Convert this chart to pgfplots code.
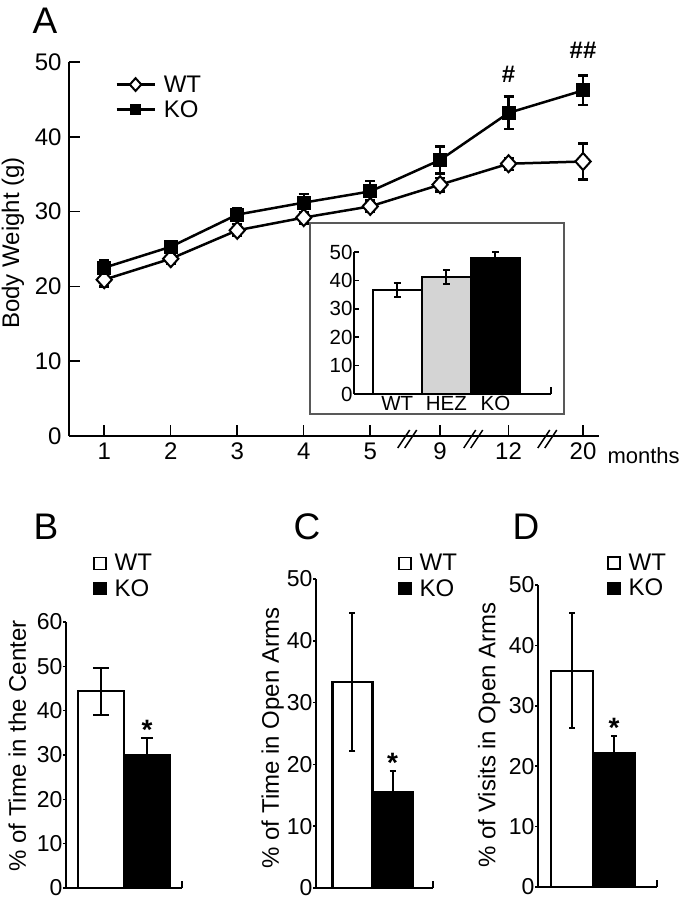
\documentclass[border=0pt]{standalone}
\usepackage{fontspec}
\setmainfont{Liberation Sans}
\usepackage{pgfplots}
\pgfplotsset{compat=1.18}
\usepackage{pgfplotstable}

\newcommand{\fA}{\fontsize{24}{28}\selectfont}
\newcommand{\fB}{\fontsize{20.5}{23}\selectfont}
\newcommand{\fC}{\fontsize{23}{27}\selectfont}
\newcommand{\fL}{\fontsize{37}{40}\selectfont}

\pgfplotstableread{
x y e
1 20.9 0.9
2 23.7 0.7
3 27.5 0.8
4 29.2 0.8
5 30.7 0.8
6.05 33.6 0.9
7.08 36.4 0.8
8.2 36.7 2.4
}\wtdata
\pgfplotstableread{
x y e
1 22.5 1.0
2 25.3 0.8
3 29.6 0.9
4 31.2 1.2
5 32.7 1.4
6.05 36.9 1.8
7.08 43.2 2.2
8.2 46.2 2.0
}\kodata

\pgfplotsset{
  every axis/.append style={
    scale only axis, anchor=south west, clip=false,
    axis x line=bottom, axis y line=left,
    axis line style={-, line width=1.8pt},
    tick style={black, line width=1.5pt},
    /pgf/number format/assume math mode=true,
  },
  bcd/.style={
    xtick=\empty, tick align=outside, major tick length=3pt,
    tick label style={font=\fC},
    yticklabel style={xshift=3pt},
    ylabel style={font=\fA, anchor=center},
    legend style={anchor=north west, draw=none, fill=none, font=\fA,
      inner sep=0pt, row sep=5pt, nodes={inner sep=1pt},
      /tikz/every odd column/.append style={column sep=7pt}},
    legend cell align=left,
  },
  wtleg/.style={legend image code/.code={\draw[line width=1.5pt, fill=white] (0pt,-6pt) rectangle (12pt,6pt);}},
  koleg/.style={legend image code/.code={\draw[line width=1.5pt, fill=black] (0pt,-6pt) rectangle (12pt,6pt);}},
}

\begin{document}
\begin{tikzpicture}[x=1pt,y=1pt]
\useasboundingbox (0,0) rectangle (684,-899);

% Panel letters
\node[font=\fL] at (45,-21) {A};
\node[font=\fL] at (46,-527) {B};
\node[font=\fL] at (307,-527) {C};
\node[font=\fL] at (526,-527) {D};

% ---------- Panel A ----------
\begin{axis}[
  at={(69pt,-436pt)},
  width=530pt, height=374pt,
  xmin=0.47, xmax=8.44, ymin=0, ymax=50,
  xtick={1,2,3,4,5,6.05,7.08,8.2}, xticklabels={1,2,3,4,5,9,12,20},
  ytick={0,10,20,30,40,50},
  tick align=inside, major tick length=11pt,
  tick label style={font=\fA},
  yticklabel style={xshift=-4pt},
  xticklabel style={yshift=-3pt},
  ylabel={Body Weight (g)},
  ylabel style={font=\fA, at={(axis description cs:-0.106,0.516)}, anchor=center},
  legend style={at={(0.087,0.967)}, anchor=north west, draw=none, fill=none, font=\fA,
    inner sep=0pt, row sep=5pt, nodes={inner sep=1pt},
    /tikz/every odd column/.append style={column sep=7pt}},
  legend cell align=left,
  legend image code/.code={\draw[mark repeat=2,mark phase=2,every mark/.append style={scale=0.75},#1] plot coordinates {(0pt,0pt) (19pt,0pt) (38pt,0pt)};},
]
\addplot[black, line width=2.5pt, mark=diamond*, mark size=8.5pt,
  mark options={fill=white, line width=2pt, xscale=1.2},
  error bars/.cd, y dir=both, y explicit,
  error bar style={line width=2.2pt},
  error mark options={rotate=90, line width=2.2pt, mark size=5pt}]
  table[x=x,y=y,y error=e]{\wtdata};
\addlegendentry{WT}
\addplot[black, line width=2.5pt, mark=square*, mark size=6.5pt,
  mark options={fill=black, line width=1pt},
  error bars/.cd, y dir=both, y explicit,
  error bar style={line width=2.2pt},
  error mark options={rotate=90, line width=2.2pt, mark size=5pt}]
  table[x=x,y=y,y error=e]{\kodata};
\addlegendentry{KO}
\node[font=\fA\bfseries] at (axis cs:7.08,48.3) {\#};
\node[font=\fA\bfseries] at (axis cs:8.2,51.6) {\#\#};
% axis breaks
\draw[line width=1.5pt] ([xshift=-9.5pt,yshift=-12pt]axis cs:5.556,0) -- ([xshift=2.5pt,yshift=6pt]axis cs:5.556,0);
\draw[line width=1.5pt] ([xshift=-2.5pt,yshift=-12pt]axis cs:5.556,0) -- ([xshift=9.5pt,yshift=6pt]axis cs:5.556,0);
\draw[line width=1.5pt] ([xshift=-9.5pt,yshift=-12pt]axis cs:6.549,0) -- ([xshift=2.5pt,yshift=6pt]axis cs:6.549,0);
\draw[line width=1.5pt] ([xshift=-2.5pt,yshift=-12pt]axis cs:6.549,0) -- ([xshift=9.5pt,yshift=6pt]axis cs:6.549,0);
\draw[line width=1.5pt] ([xshift=-9.5pt,yshift=-12pt]axis cs:7.662,0) -- ([xshift=2.5pt,yshift=6pt]axis cs:7.662,0);
\draw[line width=1.5pt] ([xshift=-2.5pt,yshift=-12pt]axis cs:7.662,0) -- ([xshift=9.5pt,yshift=6pt]axis cs:7.662,0);
\end{axis}
\node[font=\fontsize{22}{26}\selectfont, anchor=west] at (604,-456) {months};

% ---------- Inset ----------
\draw[black!65, line width=1.5pt, fill=white] (310,-223) rectangle (564,-414);
\begin{axis}[
  at={(354pt,-394pt)},
  width=197pt, height=142pt,
  xmin=0.12, xmax=4.13, ymin=0, ymax=50,
  ytick={0,10,20,30,40,50},
  xtick={1,2,3}, xticklabels={WT,HEZ,KO},
  major x tick style={draw=none},
  tick align=inside, major tick length=5pt,
  tick label style={font=\fB},
  yticklabel style={xshift=2pt},
  xticklabel style={yshift=1pt},
]
\addplot[ybar, bar width=1, bar shift=0pt, draw=black, line width=2.2pt, fill=white,
  error bars/.cd, y dir=both, y explicit, error bar style={line width=2pt},
  error mark options={rotate=90, line width=2pt, mark size=3.5pt}]
  coordinates {(1,36.6) +- (0,2.4)};
\addplot[ybar, bar width=1, bar shift=0pt, draw=black, line width=2.2pt, fill=black!17,
  error bars/.cd, y dir=both, y explicit, error bar style={line width=2pt},
  error mark options={rotate=90, line width=2pt, mark size=3.5pt}]
  coordinates {(2,41.2) +- (0,2.5)};
\addplot[ybar, bar width=1, bar shift=0pt, draw=black, line width=2.2pt, fill=black,
  error bars/.cd, y dir=both, y explicit, error bar style={line width=2pt},
  error mark options={rotate=90, line width=2pt, mark size=3.5pt}]
  coordinates {(3,47.9) +- (0,2.1)};
\draw[line width=1.5pt] (axis cs:4.13,0) -- ++(0pt,7pt);
\end{axis}

% ---------- Panel B ----------
\begin{axis}[bcd,
  at={(66pt,-888pt)}, width=116pt, height=266pt,
  xmin=0.24, xmax=2.76, ymin=0, ymax=60, ytick={0,10,20,30,40,50,60},
  ylabel={\% of Time in the Center},
  ylabel style={at={(axis description cs:-0.42,0.534)}},
  legend style={at={(0.233,1.259)}},
]
\addplot[ybar, bar width=1, bar shift=0pt, draw=black, line width=2.2pt, fill=white, wtleg,
  error bars/.cd, y dir=both, y explicit, error bar style={line width=2pt},
  error mark options={rotate=90, line width=2pt, mark size=8pt}]
  coordinates {(1,44.4) +- (0,5.3)};
\addlegendentry{WT}
\addplot[ybar, bar width=1, bar shift=0pt, draw=black, line width=2.2pt, fill=black, koleg,
  error bars/.cd, y dir=both, y explicit, error bar style={line width=2pt},
  error mark options={rotate=90, line width=2pt, mark size=6pt}]
  coordinates {(2,30.0) +- (0,3.8)};
\addlegendentry{KO}
\node[font=\fontsize{28}{30}\selectfont\bfseries, anchor=base] at (axis cs:2,33.4) {*};
\draw[line width=1.5pt] (axis cs:2.76,0) -- ++(0pt,7pt);
\end{axis}

% ---------- Panel C ----------
\begin{axis}[bcd,
  at={(316pt,-888pt)}, width=117pt, height=309pt,
  xmin=0.09, xmax=3.01, ymin=0, ymax=50, ytick={0,10,20,30,40,50},
  ylabel={\% of Time in Open Arms},
  ylabel style={at={(axis description cs:-0.37,0.485)}},
  legend style={at={(0.70,1.084)}},
]
\addplot[ybar, bar width=1, bar shift=0pt, draw=black, line width=2.2pt, fill=white, wtleg,
  error bars/.cd, y dir=both, y explicit, error bar style={line width=2pt},
  error mark options={rotate=90, line width=2pt, mark size=3pt}]
  coordinates {(1,33.3) +- (0,11.2)};
\addlegendentry{WT}
\addplot[ybar, bar width=1, bar shift=0pt, draw=black, line width=2.2pt, fill=black, koleg,
  error bars/.cd, y dir=both, y explicit, error bar style={line width=2pt},
  error mark options={rotate=90, line width=2pt, mark size=3pt}]
  coordinates {(2,15.5) +- (0,3.5)};
\addlegendentry{KO}
\node[font=\fontsize{28}{30}\selectfont\bfseries, anchor=base] at (axis cs:2,18.7) {*};
\draw[line width=1.5pt] (axis cs:3.01,0) -- ++(0pt,7pt);
\end{axis}

% ---------- Panel D ----------
\begin{axis}[bcd,
  at={(538pt,-887pt)}, width=119pt, height=302pt,
  xmin=0.19, xmax=3.02, ymin=0, ymax=50, ytick={0,10,20,30,40,50},
  ylabel={\% of Visits in Open Arms},
  ylabel style={at={(axis description cs:-0.41,0.503)}},
  legend style={at={(0.58,1.106)}},
]
\addplot[ybar, bar width=1, bar shift=0pt, draw=black, line width=2.2pt, fill=white, wtleg,
  error bars/.cd, y dir=both, y explicit, error bar style={line width=2pt},
  error mark options={rotate=90, line width=2pt, mark size=3pt}]
  coordinates {(1,35.8) +- (0,9.5)};
\addlegendentry{WT}
\addplot[ybar, bar width=1, bar shift=0pt, draw=black, line width=2.2pt, fill=black, koleg,
  error bars/.cd, y dir=both, y explicit, error bar style={line width=2pt},
  error mark options={rotate=90, line width=2pt, mark size=3pt}]
  coordinates {(2,22.2) +- (0,2.8)};
\addlegendentry{KO}
\node[font=\fontsize{28}{30}\selectfont\bfseries, anchor=base] at (axis cs:2,24.7) {*};
\draw[line width=1.5pt] (axis cs:3.02,0) -- ++(0pt,7pt);
\end{axis}
\end{tikzpicture}
\end{document}
